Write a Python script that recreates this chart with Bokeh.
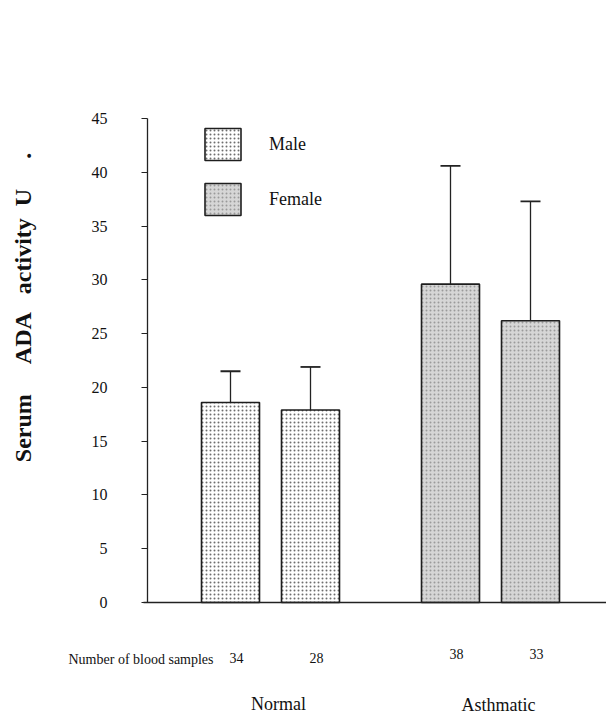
from math import pi
from bokeh.plotting import figure
from bokeh.models import (ColumnDataSource, Range1d, FixedTicker, Whisker, TeeHead,
                          Legend, LegendItem)
from bokeh.core.properties import value
from bokeh.embed import file_html
from bokeh.resources import INLINE

# ---- data ----
groups = ["Normal", "Asthmatic"]
male_mean = [18.6, 29.6]
male_upper = [21.5, 40.6]
female_mean = [17.9, 26.2]
female_upper = [21.9, 37.3]
male_n = [34, 38]
female_n = [28, 33]
y_ticks = [0, 5, 10, 15, 20, 25, 30, 35, 40, 45]

# ---- layout / style ----
W, H = 606, 714
AX_X = 147            # pixel column of the value axis
AX_Y = 602            # pixel row of the zero line
PX_PER_UNIT = 484 / 45
group_center = [123, 343]   # x units are pixels to the right of the value axis
offset = 40
bar_w = 58
fill_by_group = {"Normal": "white", "Asthmatic": "#d6d6d6"}
hatch_by_group = {"Normal": "#6e6e6e", "Asthmatic": "#9a9a9a"}
SERIF = "Liberation Serif"
NB = "\u00a0"


def yrow(py):
    """value-axis coordinate of a pixel row (for placing texts)"""
    return (AX_Y - py) / PX_PER_UNIT


# frame covers the whole canvas; axes are drawn at fixed locations inside it
p = figure(width=W, height=H, output_backend="svg", toolbar_location=None,
           x_range=Range1d(-AX_X, W - AX_X), y_range=Range1d(yrow(H), yrow(0)),
           min_border_left=0, min_border_right=0, min_border_top=0,
           min_border_bottom=0)
p.outline_line_color = None
p.xgrid.visible = False
p.ygrid.visible = False
p.background_fill_color = "white"


def make_source(means, uppers, sign):
    return ColumnDataSource(dict(
        x=[c + sign * offset for c in group_center],
        top=means,
        upper=uppers,
        fill=[fill_by_group[g] for g in groups],
        hatch=[hatch_by_group[g] for g in groups],
    ))


src_m = make_source(male_mean, male_upper, -1)
src_f = make_source(female_mean, female_upper, +1)

renderers = []
for src in (src_m, src_f):
    r = p.vbar(x="x", top="top", bottom=0, width=bar_w, source=src,
               fill_color="fill", line_color="#1e1e1e", line_width=1.6,
               hatch_pattern="dot", hatch_color="hatch", hatch_scale=4,
               hatch_weight=1.3)
    renderers.append(r)
    p.add_layout(Whisker(source=src, base="x", lower="top", upper="upper",
                         line_color="#222222", line_width=1.3,
                         upper_head=TeeHead(size=20, line_width=1.8, line_color="#222222"),
                         lower_head=None))

legend = Legend(items=[LegendItem(label="Male", renderers=[renderers[0]], index=0),
                       LegendItem(label="Female", renderers=[renderers[1]], index=1)],
                location=(200, 495), orientation="vertical",
                glyph_width=45, glyph_height=40, spacing=15, label_standoff=24,
                label_text_font=SERIF, label_text_font_size="18px",
                label_text_color="#111111",
                border_line_color=None, background_fill_alpha=0,
                padding=0, margin=0)
p.add_layout(legend)

# value axis
yax = p.yaxis[0]
yax.fixed_location = 0
yax.bounds = (0, 45)
yax.ticker = FixedTicker(ticks=y_ticks)
yax.minor_tick_line_color = None
yax.major_tick_out = 6
yax.major_tick_in = 0
yax.major_label_standoff = 34
yax.major_label_text_font = SERIF
yax.major_label_text_font_size = "16px"
yax.major_label_text_color = "#111111"
yax.axis_line_width = 1.3
yax.axis_line_color = "#222222"
yax.major_tick_line_color = "#222222"

# baseline
xax = p.xaxis[0]
xax.fixed_location = 0
xax.bounds = (-4, W - AX_X)
xax.ticker = FixedTicker(ticks=[])
xax.minor_tick_line_color = None
xax.major_label_text_font_size = "0px"
xax.axis_line_width = 1.6
xax.axis_line_color = "#222222"

# axis title
p.text(x=[-125], y=[yrow(307)],
       text=["Serum" + NB * 5 + "ADA" + NB * 3 + "activity" + NB * 2 + "U" + NB * 5 + "."],
       angle=pi / 2, text_font=value(SERIF), text_font_size="24px",
       text_font_style="bold", text_align="center", text_baseline="middle",
       text_color="#111111")

# sample-count row
p.text(x=[68 - AX_X], y=[yrow(659)], text=["Number of blood samples"],
       text_font=value(SERIF), text_font_size="14px", text_align="left",
       text_baseline="middle", text_color="#111111")
bar_x = list(src_m.data["x"]) + list(src_f.data["x"])
counts = male_n + female_n
cnt_src = ColumnDataSource(dict(
    x=[x + 6 for x in bar_x],
    y=[yrow(657), yrow(653), yrow(657), yrow(653)],
    t=[str(n) for n in counts],
))
p.text(x="x", y="y", text="t", source=cnt_src, text_font=value(SERIF),
       text_font_size="14px", text_align="center", text_baseline="middle",
       text_color="#111111")

# group names
grp_src = ColumnDataSource(dict(x=[c + 8 for c in group_center],
                                y=[yrow(703), yrow(704)], g=groups))
p.text(x="x", y="y", text="g", source=grp_src, text_font=value(SERIF),
       text_font_size="18px", text_align="center", text_baseline="middle",
       text_color="#111111")

open("out.html", "w").write(file_html(p, INLINE))
